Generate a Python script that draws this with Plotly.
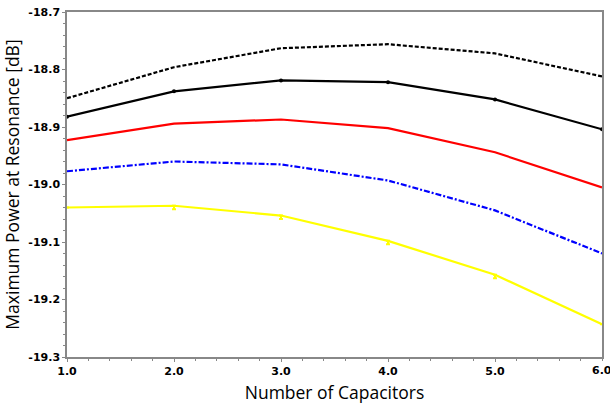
import plotly.graph_objects as go

capacitors = [1, 2, 3, 4, 5, 6]
dashed_black = [-18.850, -18.796, -18.763, -18.756, -18.772, -18.812]
solid_black = [-18.882, -18.838, -18.819, -18.822, -18.852, -18.904]
red_series = [-18.923, -18.894, -18.887, -18.902, -18.944, -19.005]
blue_series = [-18.977, -18.960, -18.965, -18.993, -19.045, -19.120]
yellow_series = [-19.040, -19.037, -19.054, -19.098, -19.157, -19.243]

x_ticks = [1, 2, 3, 4, 5]
x_tick_labels = ["1.0", "2.0", "3.0", "4.0", "5.0"]
last_x_tick = 6
last_x_label = "6.0"
y_ticks = [-18.7, -18.8, -18.9, -19.0, -19.1, -19.2, -19.3]
y_tick_labels = ["-18.7", "-18.8", "-18.9", "-19.0", "-19.1", "-19.2", "-19.3"]

tick_font = dict(family="DejaVu Sans", size=11, color="black", weight="bold")

fig = go.Figure()
fig.add_trace(go.Scatter(x=capacitors, y=dashed_black, mode="lines",
                         line=dict(color="black", width=2.2, dash="4px,2px")))
fig.add_trace(go.Scatter(x=capacitors, y=solid_black, mode="lines+markers",
                         line=dict(color="black", width=2.2),
                         marker=dict(size=4, color="black")))
fig.add_trace(go.Scatter(x=capacitors, y=red_series, mode="lines",
                         line=dict(color="#ff0000", width=2.2)))
fig.add_trace(go.Scatter(x=capacitors, y=blue_series, mode="lines",
                         line=dict(color="#0000ff", width=2.2, dash="6px,2px,2px,2px")))
fig.add_trace(go.Scatter(x=capacitors, y=yellow_series, mode="lines",
                         line=dict(color="#ffff00", width=2.2),
                         error_y=dict(type="data", symmetric=False, array=[0, 0, 0, 0, 0, 0],
                                      arrayminus=[0, 0.006, 0.006, 0.006, 0.006, 0],
                                      color="#ffff00", thickness=2, width=2)))

axis_common = dict(showline=True, linecolor="#888888", linewidth=1.5, mirror=True,
                   showgrid=False, zeroline=False, ticks="outside", ticklen=3,
                   tickcolor="#888888", tickfont=tick_font)

fig.update_xaxes(range=[1, 6], tickvals=x_ticks, ticktext=x_tick_labels,
                 minor=dict(dtick=0.2, ticks="outside", ticklen=2, tickcolor="#888888"),
                 title=dict(text="Number of Capacitors", font=dict(family="Open Sans", size=17.5, color="black"),
                            standoff=10),
                 **axis_common)
fig.update_yaxes(range=[-19.3, -18.7], tickvals=y_ticks, ticktext=y_tick_labels,
                 minor=dict(dtick=0.02, ticks="outside", ticklen=2, tickcolor="#888888"),
                 title=dict(text="Maximum Power at Resonance [dB]",
                            font=dict(family="Open Sans", size=17.5, color="black"), standoff=6),
                 **axis_common)

fig.add_annotation(x=last_x_tick, y=0, xref="x", yref="paper", text=last_x_label,
                   showarrow=False, yanchor="top", xanchor="center", yshift=-5,
                   font=tick_font)

fig.update_layout(width=610, height=412, showlegend=False,
                  margin=dict(l=67, r=6, t=12, b=55),
                  plot_bgcolor="white", paper_bgcolor="white")
fig.write_html("out.html")
